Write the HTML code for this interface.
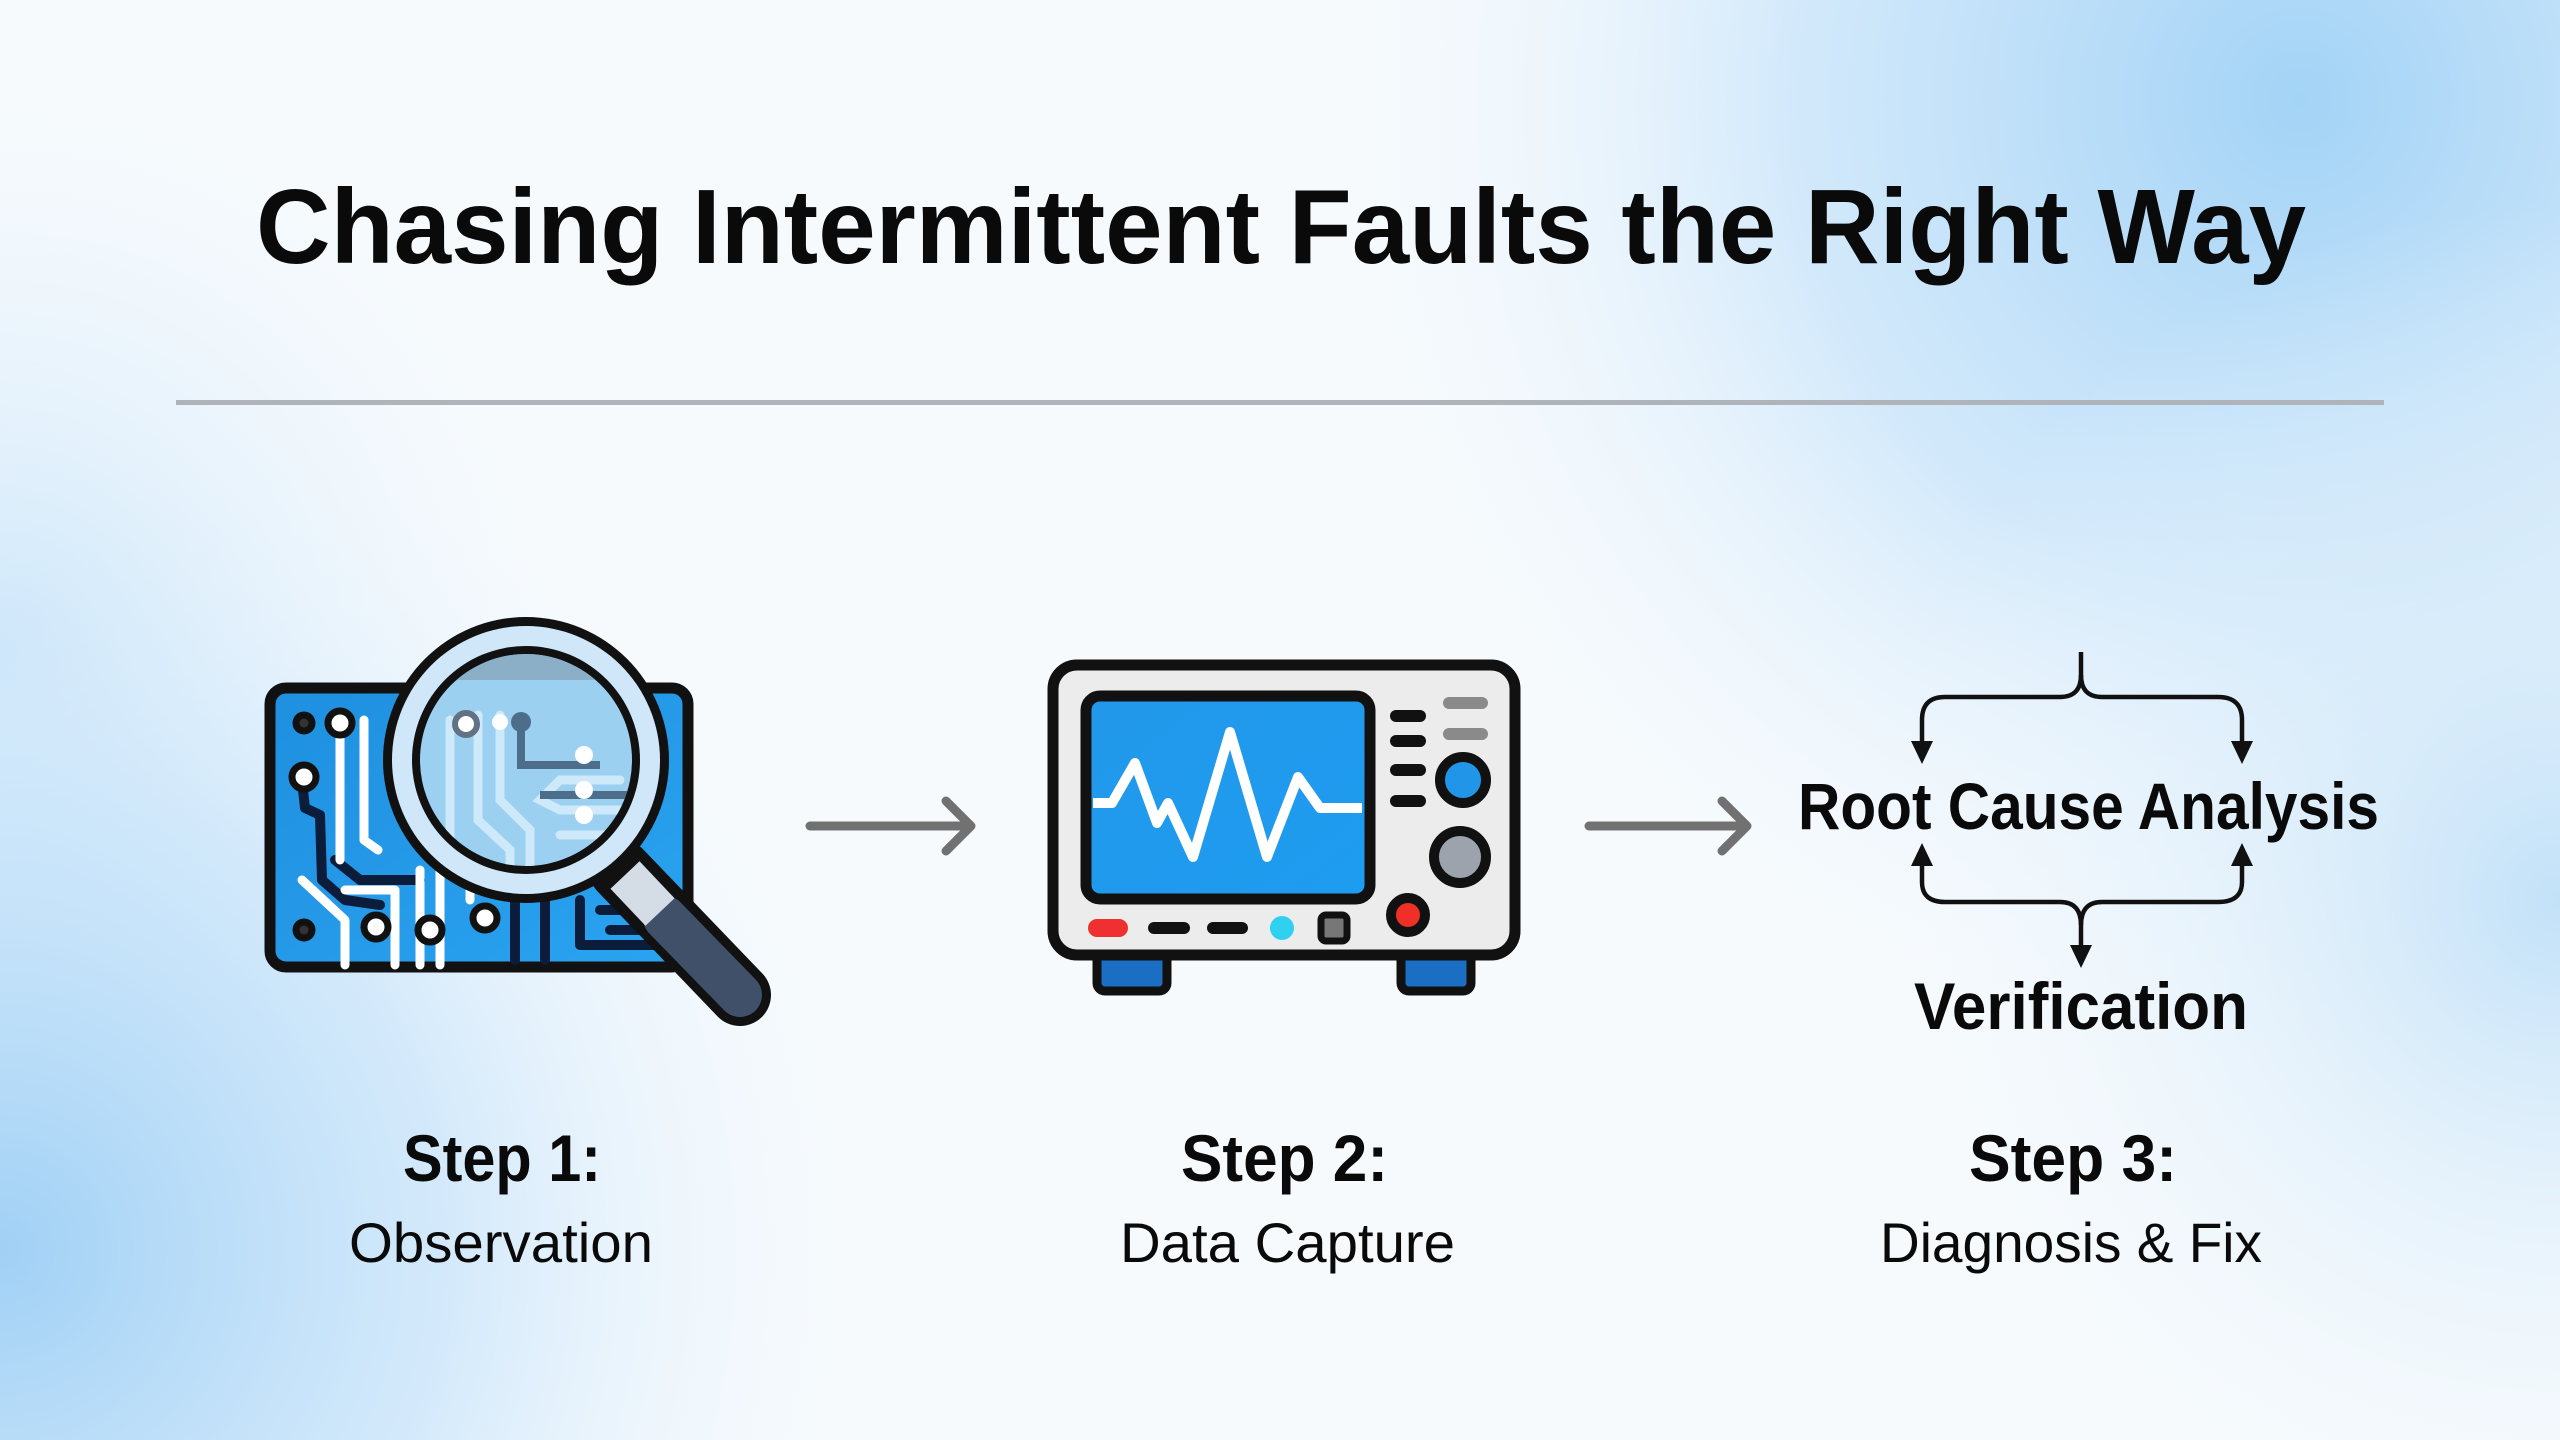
<!DOCTYPE html>
<html><head><meta charset="utf-8"><style>
html,body{margin:0;padding:0;width:2560px;height:1440px;overflow:hidden}
body{background:#f6fafd}
svg{display:block}
</style></head><body>
<svg width="2560" height="1440" viewBox="0 0 2560 1440" xmlns="http://www.w3.org/2000/svg">
<defs>
<radialGradient id="g1" cx="2300" cy="100" r="1000" gradientUnits="userSpaceOnUse"><stop offset="0" stop-color="#a3d3f6"/><stop offset="0.5" stop-color="#c8e4fa" stop-opacity="0.8"/><stop offset="1" stop-color="#f6fafd" stop-opacity="0"/></radialGradient>
<radialGradient id="g2" cx="0" cy="1250" r="900" gradientUnits="userSpaceOnUse"><stop offset="0" stop-color="#a0d0f5"/><stop offset="0.5" stop-color="#c8e4fa" stop-opacity="0.75"/><stop offset="1" stop-color="#f6fafd" stop-opacity="0"/></radialGradient>
<radialGradient id="g3" cx="2560" cy="900" r="700" gradientUnits="userSpaceOnUse"><stop offset="0" stop-color="#c2e1f8"/><stop offset="1" stop-color="#f6fafd" stop-opacity="0"/></radialGradient>
<radialGradient id="g4" cx="0" cy="650" r="600" gradientUnits="userSpaceOnUse"><stop offset="0" stop-color="#c4e2f9"/><stop offset="1" stop-color="#f6fafd" stop-opacity="0"/></radialGradient>
<linearGradient id="board" x1="0" y1="0" x2="1" y2="1"><stop offset="0" stop-color="#1f8fe0"/><stop offset="1" stop-color="#2aa4f0"/></linearGradient>
<linearGradient id="scr" x1="0" y1="0" x2="1" y2="1"><stop offset="0" stop-color="#2298ea"/><stop offset="1" stop-color="#1e9cf0"/></linearGradient>
<clipPath id="lens"><circle cx="526" cy="760" r="106"/></clipPath>
</defs>
<rect width="2560" height="1440" fill="url(#g4)"/>
<rect width="2560" height="1440" fill="url(#g1)"/>
<rect width="2560" height="1440" fill="url(#g2)"/>
<rect width="2560" height="1440" fill="url(#g3)"/>

<text x="256" y="263" font-family="Liberation Sans, sans-serif" font-weight="bold" font-size="106" fill="#0a0a0a" textLength="2050" lengthAdjust="spacingAndGlyphs">Chasing Intermittent Faults the Right Way</text>
<rect x="176" y="400" width="2208" height="5" fill="#aeb4ba"/>

<!-- Step 1 icon -->
<rect x="270" y="688" width="418" height="279" rx="16" fill="url(#board)" stroke="#111" stroke-width="11"/>
<g stroke="#0b1d3a" stroke-width="10" fill="none" stroke-linecap="round" stroke-linejoin="round">
<path d="M303 790 L305 808 L320 815 L322 880 L345 900 L380 905"/>
<path d="M335 860 L360 880 L420 880"/>
<path d="M515 900 L515 960"/><path d="M545 900 L545 960"/>
<path d="M580 900 L580 945 L660 945"/><path d="M600 910 L660 910"/><path d="M610 930 L660 930"/>
</g>
<g stroke="#fff" stroke-width="9" fill="none" stroke-linecap="round" stroke-linejoin="round">
<path d="M340 733 L340 860"/>
<path d="M364 720 L364 840 L378 850"/>
<path d="M302 880 L345 920 L345 965"/>
<path d="M345 890 L395 890 L395 965"/>
<path d="M420 870 L420 965"/>
<path d="M440 870 L440 965"/>
<path d="M470 880 L470 900"/>
</g>
<g stroke="#111" stroke-width="7">
<circle cx="304" cy="723" r="8" fill="#333"/>
<circle cx="340" cy="723" r="12" fill="#fff"/>
<circle cx="304" cy="777" r="12" fill="#fff"/>
<circle cx="376" cy="927" r="12" fill="#fff"/>
<circle cx="430" cy="930" r="12" fill="#fff"/>
<circle cx="485" cy="918" r="12" fill="#fff"/>
<circle cx="304" cy="930" r="8" fill="#333"/>
</g>
<line x1="620" y1="870" x2="740" y2="995" stroke="#111" stroke-width="62" stroke-linecap="round"/>
<line x1="665" y1="918" x2="740" y2="995" stroke="#3f5068" stroke-width="44" stroke-linecap="round"/>
<line x1="625" y1="875" x2="660" y2="912" stroke="#d4dde6" stroke-width="40"/>
<circle cx="526" cy="760" r="143" fill="#111"/>
<circle cx="526" cy="760" r="134" fill="#cfe7f8"/>
<circle cx="526" cy="760" r="114" fill="#111"/>
<circle cx="526" cy="760" r="106" fill="#8fcaf0"/>
<g clip-path="url(#lens)">
<rect x="420" y="650" width="220" height="30" fill="#7aa4c0"/>
<g stroke="#c8e6fa" stroke-width="9" fill="none" stroke-linecap="round">
<path d="M450 720 L450 870"/><path d="M478 715 L478 820 L510 850 L510 880"/>
<path d="M500 715 L500 800 L530 830 L530 880"/>
<path d="M620 780 L560 780 L540 800 L560 810 L640 810"/><path d="M560 835 L640 835"/>
</g>
<g stroke="#345a7c" stroke-width="8" fill="none"><path d="M521 722 L521 765 L600 765"/><path d="M540 795 L640 795"/></g>
<circle cx="466" cy="724" r="11" fill="#fff" stroke="#4a5f74" stroke-width="6"/>
<circle cx="500" cy="722" r="8" fill="#fff"/>
<circle cx="521" cy="722" r="10" fill="#345a7c"/>
<circle cx="584" cy="755" r="9" fill="#fff"/><circle cx="584" cy="790" r="9" fill="#fff"/><circle cx="584" cy="815" r="9" fill="#fff"/>
<circle cx="526" cy="760" r="106" fill="#fff" opacity="0.12"/>
</g>

<g stroke="#717171" stroke-width="9" fill="none" stroke-linecap="round" stroke-linejoin="round">
<path d="M810 826 L970 826 M946 801 L971 826 L946 851"/>
<path d="M1589 826 L1746 826 M1722 801 L1747 826 L1722 851"/>
</g>

<rect x="1097" y="945" width="70" height="46" rx="8" fill="#1a6fc4" stroke="#111" stroke-width="9"/>
<rect x="1401" y="945" width="70" height="46" rx="8" fill="#1a6fc4" stroke="#111" stroke-width="9"/>
<rect x="1053" y="665" width="462" height="290" rx="24" fill="#ececec" stroke="#111" stroke-width="11"/>
<rect x="1086" y="696" width="284" height="203" rx="14" fill="url(#scr)" stroke="#111" stroke-width="11"/>
<polyline points="1093,803 1112,803 1135,763 1157,823 1168,803 1193,857 1230,732 1267,857 1298,777 1320,808 1362,808" fill="none" stroke="#fff" stroke-width="10" stroke-linejoin="round"/>
<g stroke="#111" stroke-width="12" stroke-linecap="round">
<line x1="1396" y1="716" x2="1420" y2="716"/><line x1="1396" y1="741" x2="1420" y2="741"/>
<line x1="1396" y1="770" x2="1420" y2="770"/><line x1="1396" y1="801" x2="1420" y2="801"/>
<line x1="1154" y1="928" x2="1184" y2="928"/><line x1="1213" y1="928" x2="1242" y2="928"/>
</g>
<g stroke="#8a8a8a" stroke-width="12" stroke-linecap="round"><line x1="1449" y1="703" x2="1482" y2="703"/><line x1="1449" y1="734" x2="1482" y2="734"/></g>
<circle cx="1463" cy="780" r="23" fill="#2196e8" stroke="#111" stroke-width="10"/>
<circle cx="1460" cy="857" r="26" fill="#9ca3ad" stroke="#111" stroke-width="10"/>
<circle cx="1408" cy="915" r="17" fill="#f03028" stroke="#111" stroke-width="10"/>
<rect x="1088" y="919" width="40" height="18" rx="9" fill="#f03030"/>
<circle cx="1282" cy="928" r="12" fill="#2fd0f0"/>
<rect x="1321" y="915" width="26" height="26" rx="5" fill="#777" stroke="#111" stroke-width="7"/>

<g stroke="#111" stroke-width="4.5" fill="none">
<path d="M2081 652 L2081 675 Q2081 697 2060 697 L1945 697 Q1922 697 1922 720 L1922 750"/>
<path d="M2081 675 Q2081 697 2102 697 L2218 697 Q2242 697 2242 720 L2242 750"/>
<path d="M1922 860 L1922 882 Q1922 902 1945 902 L2060 902 Q2081 902 2081 925 L2081 955"/>
<path d="M2242 860 L2242 882 Q2242 902 2218 902 L2102 902 Q2081 902 2081 925"/>
</g>
<g fill="#111">
<polygon points="1911,741 1933,741 1922,764"/><polygon points="2231,741 2253,741 2242,764"/>
<polygon points="1911,866 1933,866 1922,843"/><polygon points="2231,866 2253,866 2242,843"/>
<polygon points="2070,945 2092,945 2081,968"/>
</g>
<text x="1798" y="829" font-family="Liberation Sans, sans-serif" font-weight="bold" font-size="66" fill="#0a0a0a" textLength="581" lengthAdjust="spacingAndGlyphs">Root Cause Analysis</text>
<text x="1914" y="1029" font-family="Liberation Sans, sans-serif" font-weight="bold" font-size="66" fill="#0a0a0a" textLength="334" lengthAdjust="spacingAndGlyphs">Verification</text>

<g font-family="Liberation Sans, sans-serif" fill="#0a0a0a">
<text x="403" y="1181" font-weight="bold" font-size="66" textLength="198" lengthAdjust="spacingAndGlyphs">Step 1:</text>
<text x="1181" y="1181" font-weight="bold" font-size="66" textLength="207" lengthAdjust="spacingAndGlyphs">Step 2:</text>
<text x="1969" y="1181" font-weight="bold" font-size="66" textLength="208" lengthAdjust="spacingAndGlyphs">Step 3:</text>
<text x="349" y="1262" font-size="56" textLength="304" lengthAdjust="spacingAndGlyphs">Observation</text>
<text x="1120" y="1262" font-size="56" textLength="335" lengthAdjust="spacingAndGlyphs">Data Capture</text>
<text x="1880" y="1262" font-size="56" textLength="382" lengthAdjust="spacingAndGlyphs">Diagnosis &amp; Fix</text>
</g>
</svg>
</body></html>
